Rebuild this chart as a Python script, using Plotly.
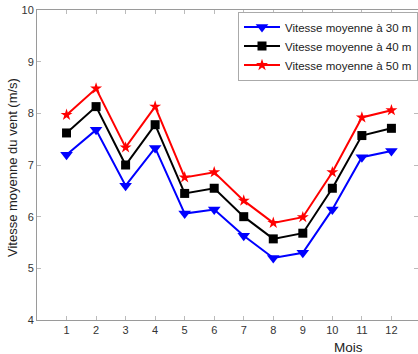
import plotly.graph_objects as go

mois = [1, 2, 3, 4, 5, 6, 7, 8, 9, 10, 11, 12]
v30 = [7.20, 7.68, 6.60, 7.33, 6.06, 6.14, 5.63, 5.20, 5.30, 6.14, 7.15, 7.27]
v40 = [7.62, 8.13, 7.00, 7.78, 6.45, 6.55, 6.00, 5.57, 5.68, 6.55, 7.57, 7.71]
v50 = [7.97, 8.48, 7.34, 8.13, 6.76, 6.86, 6.31, 5.88, 5.99, 6.86, 7.92, 8.06]
noms = ["Vitesse moyenne à 30 m", "Vitesse moyenne à 40 m", "Vitesse moyenne à 50 m"]

fig = go.Figure()
fig.add_trace(go.Scatter(x=mois, y=v30, mode="lines+markers", name=noms[0],
                         line=dict(color="#0000ff", width=2),
                         marker=dict(symbol="triangle-down", size=11, color="#0000ff")))
fig.add_trace(go.Scatter(x=mois, y=v40, mode="lines+markers", name=noms[1],
                         line=dict(color="#000000", width=2),
                         marker=dict(symbol="square", size=9, color="#000000")))
fig.add_trace(go.Scatter(x=mois, y=v50, mode="lines+markers", name=noms[2],
                         line=dict(color="#ff0000", width=2),
                         marker=dict(symbol="star", size=9, color="#ff0000")))

axis_common = dict(showgrid=False, zeroline=False, showline=True, linecolor="#9a9a9a",
                   linewidth=1, mirror="ticks", ticks="inside", ticklen=4,
                   tickcolor="#bbbbbb", tickfont=dict(size=11, color="#333333"))
fig.update_xaxes(range=[0, 12.9], tickvals=mois, **axis_common)
fig.update_yaxes(range=[4, 10], tickvals=[4, 5, 6, 7, 8, 9, 10], **axis_common)

fig.add_annotation(text="Mois", xref="paper", yref="paper", showarrow=False,
                   x=(348 - 37) / 381, y=-(347 - 320) / 310, xanchor="center", yanchor="middle",
                   font=dict(size=13.5, color="#222222"))
fig.add_annotation(text="Vitesse moyenne du vent (m/s)", xref="paper", yref="paper", showarrow=False,
                   x=-(37 - 12) / 381, y=(320 - 168) / 310, xanchor="center", yanchor="middle",
                   textangle=-90, font=dict(size=13, color="#222222"))

fig.update_layout(
    width=418, height=354,
    margin=dict(l=37, r=0, t=10, b=34, autoexpand=False),
    paper_bgcolor="white", plot_bgcolor="white",
    font=dict(family="Liberation Sans, Arial, sans-serif"),
    legend=dict(x=1.0, y=0.995, xanchor="right", yanchor="top",
                bgcolor="white", bordercolor="#aaaaaa", borderwidth=1,
                font=dict(size=11.5, color="#222222"), tracegroupgap=0, itemwidth=36),
    showlegend=True,
)
fig.write_html("out.html")
